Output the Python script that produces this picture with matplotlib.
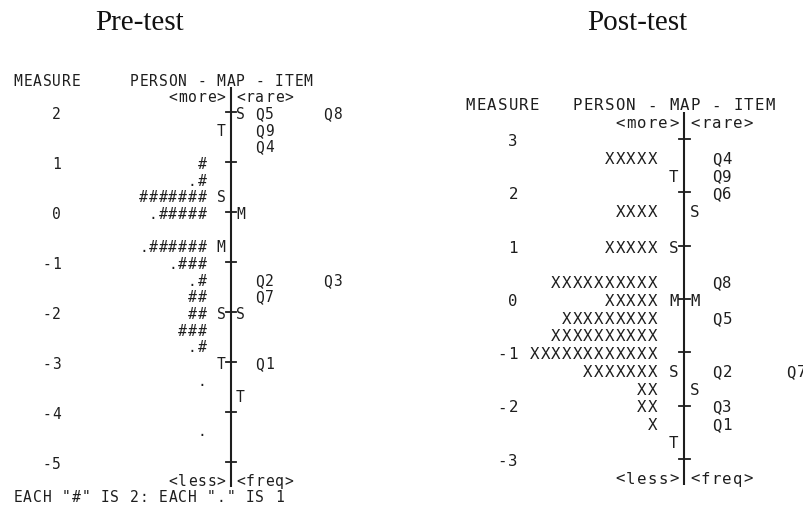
#!/usr/bin/env python3
"""
Wright map (person - item map), pre-test vs post-test
"""

import matplotlib
matplotlib.use("Agg")
import matplotlib.pyplot as plt

INK = "#1e1e1e"
MONO = "DejaVu Sans Mono"

# ---- Pre-test data (one row = 1/3 logit, row 0 = measure 2) ----
pre_top = 2
pre_ticks = [2, 1, 0, -1, -2, -3, -4, -5]
pre_hashes = [0, 0, 0, 1, 1, 7, 5, 0, 6, 3, 1, 2, 2, 3, 1, 0, 0, 0, 0, 0, 0, 0]
pre_dots = [0, 0, 0, 0, 1, 0, 1, 0, 1, 1, 1, 0, 0, 0, 1, 0, 1, 0, 0, 1, 0, 0]
pre_items = ["Q5", "Q8", "Q9", "Q4", "Q2", "Q3", "Q7", "Q1"]
pre_item_rows = [0, 0, 1, 2, 10, 10, 11, 15]
pre_person_marks = ["T", "S", "M", "S", "T"]
pre_person_mark_rows = [1, 5, 8, 12, 15]
pre_item_marks = ["S", "M", "S", "T"]
pre_item_mark_rows = [0, 6, 12, 17]
pre_note = 'EACH "#" IS 2: EACH "." IS 1'

# ---- Post-test data (row 0 = measure 3) ----
post_top = 3
post_ticks = [3, 2, 1, 0, -1, -2, -3]
post_xs = [0, 5, 0, 0, 4, 0, 5, 0, 10, 5, 9, 10, 12, 7, 2, 2, 1, 0, 0]
post_items = ["Q4", "Q9", "Q6", "Q8", "Q5", "Q2", "Q7", "Q3", "Q1"]
post_item_rows = [1, 2, 3, 8, 10, 13, 13, 15, 16]
post_person_marks = ["T", "S", "M", "S", "T"]
post_person_mark_rows = [2, 6, 9, 13, 17]
post_item_marks = ["S", "M", "S"]
post_item_mark_rows = [4, 9, 14]


def put(ax, col, m, s, size):
    """Write a string one character per column (monospace grid)"""
    for k, ch in enumerate(s):
        if ch != " ":
            ax.text(col + k + 0.5, m, ch, ha="center", va="center_baseline",
                    family=MONO, fontsize=size, color=INK, clip_on=False)


def draw_map(ax, top, ticks, persons, items, item_rows, pmarks, pmark_rows,
             imarks, imark_rows, line_col, size, note=None):
    row_m = lambda r: top - r / 3.0
    nrows = len(persons)
    person_end = line_col - 3
    item_col = line_col + 3

    # header
    put(ax, 0, row_m(-2), "MEASURE", size)
    put(ax, line_col - 10, row_m(-2), "PERSON - MAP - ITEM", size)
    put(ax, line_col - 6, row_m(-1), "<more>", size)
    put(ax, line_col + 1, row_m(-1), "<rare>", size)
    put(ax, line_col - 6, row_m(nrows), "<less>", size)
    put(ax, line_col + 1, row_m(nrows), "<freq>", size)
    if note:
        put(ax, 0, row_m(nrows + 1), note, size)

    # vertical axis and ticks
    xc = line_col + 0.5
    ax.plot([xc, xc], [row_m(-1) + 1 / 6, row_m(nrows) - 1 / 6], color=INK, lw=1.5,
            solid_capstyle="butt")
    for t in ticks:
        ax.plot([xc - 0.5, xc + 0.5], [t, t], color=INK, lw=1.3)
        lab = str(t)
        put(ax, 5 - len(lab), t, lab, size)

    # persons
    for r, s in enumerate(persons):
        if s:
            put(ax, person_end - len(s) + 1, row_m(r), s, size)

    # M / S / T markers
    for lab, r in zip(pmarks, pmark_rows):
        put(ax, line_col - 1, row_m(r), lab, size)
    for lab, r in zip(imarks, imark_rows):
        put(ax, line_col + 1, row_m(r), lab, size)

    # items, a second item in the same row goes 7 columns further
    used = {}
    for lab, r in zip(items, item_rows):
        k = used.get(r, 0)
        put(ax, item_col + 7 * k, row_m(r), lab, size)
        used[r] = k + 1


def main():
    W, H = 804, 506
    fig = plt.figure(figsize=(W / 100, H / 100), dpi=100)

    # pre-test: col -> 13 + 9.68*col px, measure -> 113 + 50*(2 - m) px
    cw, x0, unit, y2 = 9.68, 13, 50.0, 113
    xmax, ylo, yhi = 40, -5.8, 2.8
    top_px = y2 - (yhi - 2) * unit
    bot_px = y2 + (2 - ylo) * unit
    ax1 = fig.add_axes([x0 / W, 1 - bot_px / H, xmax * cw / W, (bot_px - top_px) / H])
    ax1.set_xlim(0, xmax)
    ax1.set_ylim(ylo, yhi)
    ax1.axis("off")
    pre_persons = ["." * d + "#" * h for d, h in zip(pre_dots, pre_hashes)]
    draw_map(ax1, pre_top, pre_ticks, pre_persons, pre_items, pre_item_rows,
             pre_person_marks, pre_person_mark_rows, pre_item_marks, pre_item_mark_rows,
             line_col=22, size=10.5, note=pre_note)

    # post-test: col -> 465 + 10.7*col px, measure -> 140 + 53.3*(3 - m) px
    cw, x0, unit, y3 = 10.7, 465, 53.3, 140
    xmax, ylo, yhi = 31.7, -3.8, 3.9
    top_px = y3 - (yhi - 3) * unit
    bot_px = y3 + (3 - ylo) * unit
    ax2 = fig.add_axes([x0 / W, 1 - bot_px / H, xmax * cw / W, (bot_px - top_px) / H])
    ax2.set_xlim(0, xmax)
    ax2.set_ylim(ylo, yhi)
    ax2.axis("off")
    post_persons = ["X" * n for n in post_xs]
    draw_map(ax2, post_top, post_ticks, post_persons, post_items, post_item_rows,
             post_person_marks, post_person_mark_rows, post_item_marks, post_item_mark_rows,
             line_col=20, size=11.3)

    fig.text(140 / W, 1 - 30 / H, "Pre-test", ha="center", va="baseline",
             family="Liberation Serif", fontsize=21, color="#111111")
    fig.text(637 / W, 1 - 30 / H, "Post-test", ha="center", va="baseline",
             family="Liberation Serif", fontsize=21, color="#111111")

    fig.savefig("out.png", dpi=100)
    plt.close(fig)


if __name__ == "__main__":
    main()
